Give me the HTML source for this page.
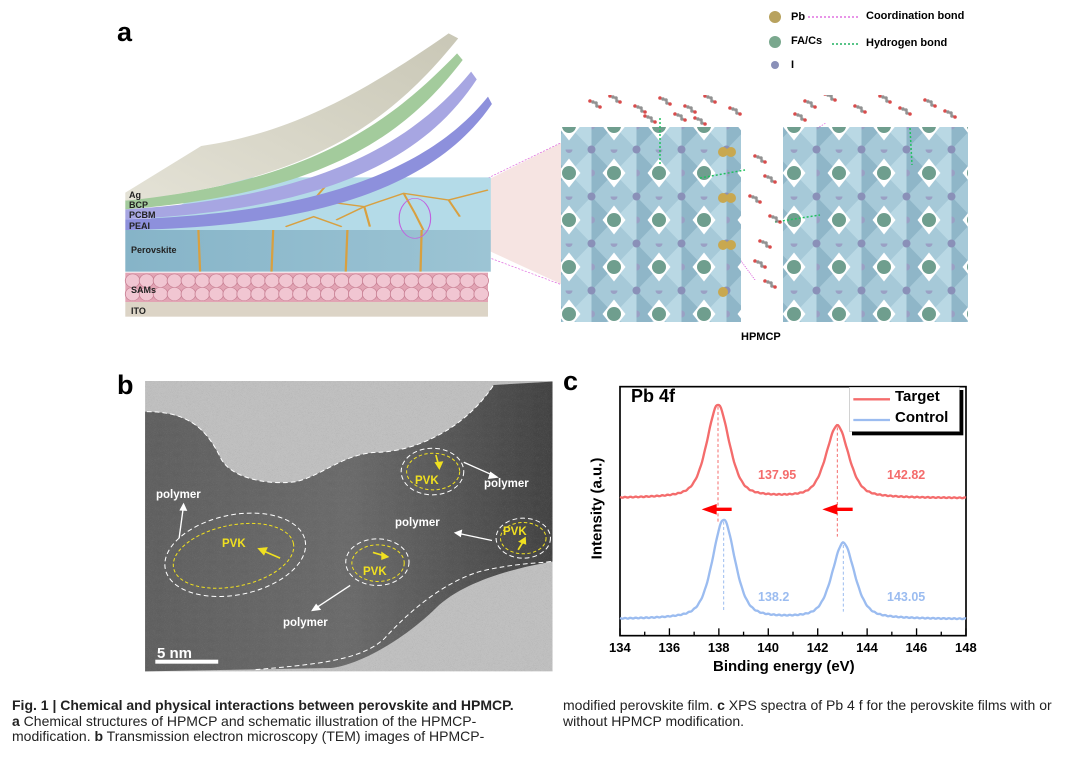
<!DOCTYPE html>
<html><head><meta charset="utf-8">
<style>
body{margin:0;background:#fff;}
#w{position:relative;width:1080px;height:757px;overflow:hidden;background:#fff;font-family:"Liberation Sans",Arial,sans-serif;}
.t{position:absolute;white-space:nowrap;}
.lab{font-size:9px;font-weight:bold;color:#222;}
.cap{position:absolute;font-family:"Liberation Sans Narrow","Liberation Sans",sans-serif;font-size:14px;line-height:15.5px;color:#222;}
svg{position:absolute;}
</style></head><body><div id="w">

<svg style="left:100px;top:0" width="880" height="360" viewBox="0 0 1565 1080" preserveAspectRatio="none">
 <defs>
  <linearGradient id="ag" x1="0" y1="1" x2="1" y2="0"><stop offset="0" stop-color="#e4e2d6"/><stop offset="1" stop-color="#c9c7b6"/></linearGradient>
  <linearGradient id="pv" x1="0" y1="0" x2="1" y2="0"><stop offset="0" stop-color="#86b4c8"/><stop offset="1" stop-color="#9cc4d4"/></linearGradient>
 </defs>
 <polygon points="560,650 830,420 830,860" fill="#f6e4e2"/>
 <line x1="560" y1="640" x2="830" y2="420" stroke="#e070e0" stroke-width="2" stroke-dasharray="4,3"/>
 <line x1="560" y1="690" x2="830" y2="860" stroke="#e070e0" stroke-width="2" stroke-dasharray="4,3"/>
 <rect x="45" y="905" width="645" height="45" fill="#dcd4c6"/>
 <rect x="45" y="818" width="645" height="88" fill="#e2a4b4"/>
 <g fill="#f1c6d2" stroke="#c88094" stroke-width="1.5"><g id="row"></g></g>
 <rect x="45" y="690" width="650" height="125" fill="url(#pv)"/>
 <polygon points="45,690 695,690 695,532 250,532" fill="#b4dbe8"/>
 <g stroke="#d8a040" stroke-width="4" fill="none">
  <line x1="175" y1="690" x2="178" y2="815"/><line x1="308" y1="690" x2="305" y2="815"/><line x1="440" y1="690" x2="437" y2="815"/><line x1="572" y1="690" x2="570" y2="815"/>
  <path d="M300,640 L380,600 L470,620 L540,580 L620,600 L690,570 M380,600 L400,560 M470,620 L480,680 M540,580 L560,640 L575,690 M420,660 L470,620 M620,600 L640,650 M330,680 L380,650 L430,680"/>
 </g>
 <ellipse cx="560" cy="655" rx="28" ry="60" fill="none" stroke="#c060e0" stroke-width="2"/>
 <path d="M45,658 C420,640 600,480 690,290 L697,312 C612,522 432,682 45,690 Z" fill="#8d90dc"/>
 <path d="M45,628 C400,592 560,420 660,215 L670,238 C582,462 422,628 45,658 Z" fill="#a7a6e2"/>
 <path d="M45,600 C380,548 520,360 635,160 L645,180 C545,402 402,582 45,628 Z" fill="#a3cb9c"/>
 <path d="M45,578 L180,438 C330,400 450,300 620,100 L637,115 C522,355 382,545 45,602 Z" fill="url(#ag)"/>
 <g stroke="#e070e0" stroke-width="2" stroke-dasharray="3,3"><line x1="1065" y1="390" x2="1110" y2="450"/><line x1="1290" y1="370" x2="1220" y2="440"/><line x1="1130" y1="760" x2="1165" y2="840"/></g>
</svg>

<svg style="left:550px;top:95px" width="430" height="240" viewBox="550 95 430 240">
 <defs>
  <pattern id="lat" x="591.5" y="149.5" width="45" height="47" patternUnits="userSpaceOnUse">
   <rect width="45" height="47" fill="#a6c9d8"/>
   <polygon points="0,0 22.5,23.5 0,47" fill="#8fb6c8"/>
   <polygon points="45,0 22.5,23.5 45,47" fill="#b9d8e4"/>
   <polygon points="22.5,9 34,23.5 22.5,38 11,23.5" fill="#fff"/>
   <circle cx="22.5" cy="23.5" r="7" fill="#6f9e8e"/>
   <circle cx="0" cy="0" r="4" fill="#8a90b8"/><circle cx="45" cy="0" r="4" fill="#8a90b8"/>
   <circle cx="0" cy="47" r="4" fill="#8a90b8"/><circle cx="45" cy="47" r="4" fill="#8a90b8"/>
   <circle cx="22.5" cy="0" r="3.5" fill="#9aa0c4"/><circle cx="0" cy="23.5" r="3.5" fill="#9aa0c4"/>
  </pattern>
 </defs>
 <rect x="561" y="127" width="180" height="195" fill="url(#lat)"/>
 <rect x="783" y="127" width="185" height="195" fill="url(#lat)"/>
 <g fill="#c8a850"><circle cx="723" cy="152" r="5"/><circle cx="731" cy="152" r="5"/><circle cx="723" cy="198" r="5"/><circle cx="731" cy="198" r="5"/><circle cx="723" cy="245" r="5"/><circle cx="731" cy="245" r="5"/><circle cx="723" cy="292" r="5"/></g>
 <g stroke="#22c060" stroke-width="1.5" stroke-dasharray="2,2"><line x1="660" y1="118" x2="660" y2="165"/><line x1="700" y1="178" x2="745" y2="170"/><line x1="775" y1="222" x2="820" y2="215"/><line x1="910" y1="128" x2="912" y2="165"/></g>
 <g fill="#888" opacity="0.8"><g id="mol"></g></g>
</svg>

<svg style="left:760px;top:5px" width="230" height="75">
 <circle cx="15" cy="12" r="6" fill="#b8a25e"/><circle cx="15" cy="37" r="6" fill="#7aa88e"/><circle cx="15" cy="60" r="4" fill="#8a90b8"/>
 <line x1="48" y1="12" x2="100" y2="12" stroke="#e070e0" stroke-width="1.5" stroke-dasharray="2,2"/>
 <line x1="72" y1="39" x2="100" y2="39" stroke="#20b060" stroke-width="1.5" stroke-dasharray="2,2"/>
</svg>
<div class="t" style="left:791px;top:11px;font-size:11px;font-weight:bold">Pb</div>
<div class="t" style="left:866px;top:10px;font-size:11px;font-weight:bold">Coordination bond</div>
<div class="t" style="left:791px;top:35px;font-size:11px;font-weight:bold">FA/Cs</div>
<div class="t" style="left:866px;top:37px;font-size:11px;font-weight:bold">Hydrogen bond</div>
<div class="t" style="left:791px;top:59px;font-size:11px;font-weight:bold">I</div>

<div class="t" style="left:117px;top:17px;font-size:27px;font-weight:bold">a</div>
<div class="t lab" style="left:129px;top:190px">Ag</div>
<div class="t lab" style="left:129px;top:200px">BCP</div>
<div class="t lab" style="left:129px;top:210px">PCBM</div>
<div class="t lab" style="left:129px;top:221px">PEAI</div>
<div class="t lab" style="left:131px;top:245px">Perovskite</div>
<div class="t lab" style="left:131px;top:285px">SAMs</div>
<div class="t lab" style="left:131px;top:306px">ITO</div>
<div class="t" style="left:741px;top:331px;font-size:11px;font-weight:bold">HPMCP</div>

<div class="t" style="left:117px;top:370px;font-size:27px;font-weight:bold">b</div>
<svg style="left:140px;top:375px" width="420" height="303" viewBox="0 0 1235 910" preserveAspectRatio="none">
 <defs>
  <filter id="nz"><feTurbulence baseFrequency="0.35" numOctaves="2" seed="3"/><feColorMatrix type="saturate" values="0"/><feComponentTransfer><feFuncA type="linear" slope="0.25"/></feComponentTransfer><feComposite in2="SourceGraphic" operator="in"/></filter>
  <linearGradient id="db" x1="0" y1="0" x2="1" y2="0"><stop offset="0" stop-color="#5e5e5e"/><stop offset="0.5" stop-color="#6a6a6a"/><stop offset="1" stop-color="#404040"/></linearGradient>
 </defs>
 <rect x="15" y="18" width="1198" height="872" fill="#c2c2c2"/>
 <path d="M15,110 C150,110 200,170 240,255 C280,320 400,330 460,320 C540,300 600,235 700,232 C800,230 950,170 1040,30 L1213,20 L1213,560 C1100,580 950,620 870,700 C780,790 650,870 560,880 L15,890 Z" fill="url(#db)"/>
 <rect x="15" y="18" width="1198" height="872" fill="#888" filter="url(#nz)"/>
 <g fill="none" stroke="#fff" stroke-width="3" stroke-dasharray="14,9">
  <path d="M20,110 C150,110 200,170 240,255 C280,320 400,330 460,320 C540,300 600,235 700,232 C800,230 950,170 1040,30"/>
  <path d="M340,885 C500,870 650,860 720,790 C800,700 900,620 1000,590 C1100,565 1180,565 1210,560"/>
  <ellipse cx="280" cy="540" rx="210" ry="120" transform="rotate(-12 280 540)"/>
  <ellipse cx="860" cy="290" rx="92" ry="70"/>
  <ellipse cx="698" cy="562" rx="93" ry="70"/>
  <ellipse cx="1127" cy="490" rx="80" ry="60"/>
 </g>
 <g fill="none" stroke="#f0e020" stroke-width="3" stroke-dasharray="10,7">
  <ellipse cx="275" cy="543" rx="180" ry="92" transform="rotate(-12 275 543)"/>
  <ellipse cx="862" cy="290" rx="78" ry="55"/>
  <ellipse cx="700" cy="565" rx="77" ry="55"/>
  <ellipse cx="1127" cy="490" rx="67" ry="47"/>
 </g>
 <g stroke="#f0e020" stroke-width="5" fill="#f0e020">
  <line x1="412" y1="550" x2="360" y2="527"/><polygon points="350,522 372,520 364,538"/>
  <line x1="870" y1="240" x2="878" y2="270"/><polygon points="880,280 870,264 888,262"/>
  <line x1="685" y1="533" x2="718" y2="543"/><polygon points="728,546 712,535 712,552"/>
  <line x1="1112" y1="525" x2="1127" y2="500"/><polygon points="1132,490 1117,500 1133,506"/>
 </g>
 <g stroke="#fff" stroke-width="4" fill="#fff">
  <line x1="115" y1="490" x2="127" y2="400"/><polygon points="128,388 119,405 136,406"/>
  <line x1="952" y1="262" x2="1040" y2="302"/><polygon points="1050,307 1031,293 1026,310"/>
  <line x1="1035" y1="497" x2="938" y2="476"/><polygon points="927,474 945,467 942,484"/>
  <line x1="618" y1="632" x2="517" y2="700"/><polygon points="507,707 518,690 529,704"/>
 </g>
 <rect x="45" y="855" width="185" height="12" fill="#fff"/>
</svg>
<div class="t" style="left:156px;top:489px;font-size:11.5px;font-weight:bold;color:#fff">polymer</div>
<div class="t" style="left:484px;top:478px;font-size:11.5px;font-weight:bold;color:#fff">polymer</div>
<div class="t" style="left:395px;top:517px;font-size:11.5px;font-weight:bold;color:#fff">polymer</div>
<div class="t" style="left:283px;top:617px;font-size:11.5px;font-weight:bold;color:#fff">polymer</div>
<div class="t" style="left:222px;top:538px;font-size:11.5px;font-weight:bold;color:#f0e020">PVK</div>
<div class="t" style="left:415px;top:475px;font-size:11.5px;font-weight:bold;color:#f0e020">PVK</div>
<div class="t" style="left:363px;top:566px;font-size:11.5px;font-weight:bold;color:#f0e020">PVK</div>
<div class="t" style="left:503px;top:526px;font-size:11.5px;font-weight:bold;color:#f0e020">PVK</div>
<div class="t" style="left:157px;top:645px;font-size:15px;font-weight:bold;color:#fff">5 nm</div>

<svg style="left:560px;top:370px" width="420" height="310" viewBox="0 0 1260 930" preserveAspectRatio="none">
 <rect x="180" y="50" width="1038" height="747" fill="none" stroke="#000" stroke-width="5"/>
 <g id="ticks" stroke="#000" stroke-width="4"></g>
 <path id="tg" fill="none" stroke="#f46c6c" stroke-width="7"/>
 <path id="cg" fill="none" stroke="#9bbcf0" stroke-width="7"/>
 <g stroke-width="3" stroke-dasharray="9,7">
  <line x1="474" y1="110" x2="474" y2="460" stroke="#f46c6c"/><line x1="832" y1="172" x2="832" y2="500" stroke="#f46c6c"/>
  <line x1="491" y1="455" x2="491" y2="725" stroke="#9bbcf0"/><line x1="850" y1="525" x2="850" y2="725" stroke="#9bbcf0"/>
 </g>
 <g fill="#f00" stroke="#f00" stroke-width="10">
  <line x1="465" y1="418" x2="515" y2="418"/><polygon points="425,418 470,402 470,434" stroke="none"/>
  <line x1="825" y1="418" x2="878" y2="418"/><polygon points="787,418 832,402 832,434" stroke="none"/>
 </g>
 <rect x="876" y="60" width="334" height="136" fill="#000"/>
 <rect x="868" y="52" width="330" height="132" fill="#fff" stroke="#bbb" stroke-width="2"/>
 <line x1="880" y1="88" x2="990" y2="88" stroke="#f46c6c" stroke-width="7"/>
 <line x1="880" y1="150" x2="990" y2="150" stroke="#9bbcf0" stroke-width="7"/>
</svg>
<div class="t" style="left:563px;top:366px;font-size:27px;font-weight:bold">c</div>
<div class="t" style="left:631px;top:386px;font-size:18px;font-weight:bold">Pb 4f</div>
<div class="t" style="left:895px;top:388px;font-size:15px;font-weight:bold">Target</div>
<div class="t" style="left:895px;top:409px;font-size:15px;font-weight:bold">Control</div>
<div class="t" style="left:758px;top:468px;font-size:12.5px;font-weight:bold;color:#f46c6c">137.95</div>
<div class="t" style="left:887px;top:468px;font-size:12.5px;font-weight:bold;color:#f46c6c">142.82</div>
<div class="t" style="left:758px;top:590px;font-size:12.5px;font-weight:bold;color:#9bbcf0">138.2</div>
<div class="t" style="left:887px;top:590px;font-size:12.5px;font-weight:bold;color:#9bbcf0">143.05</div>
<div id="xl"></div>
<div class="t" style="left:713px;top:658px;font-size:15px;font-weight:bold">Binding energy (eV)</div>
<div class="t" style="left:546px;top:500px;font-size:15px;font-weight:bold;transform:rotate(-90deg);transform-origin:center">Intensity (a.u.)</div>

<div class="cap" style="left:12px;top:698px;width:545px"><b>Fig. 1 | Chemical and physical interactions between perovskite and HPMCP.</b><br><b>a</b> Chemical structures of HPMCP and schematic illustration of the HPMCP-<br>modification. <b>b</b> Transmission electron microscopy (TEM) images of HPMCP-</div>
<div class="cap" style="left:563px;top:698px;width:515px">modified perovskite film. <b>c</b> XPS spectra of Pb 4 f for the perovskite films with or<br>without HPMCP modification.</div>

</div>
<script>
(function(){
var ns="http://www.w3.org/2000/svg";
function el(p,t,a){var e=document.createElementNS(ns,t);for(var k in a)e.setAttribute(k,a[k]);p.appendChild(e);return e;}
var row=document.getElementById('row');
for(var r=0;r<2;r++)for(var i=0;i<26;i++)el(row,'ellipse',{cx:58+i*24.8,cy:842+r*40,rx:13,ry:20});
var mol=document.getElementById('mol');
var pts=[[595,105],[615,100],[640,110],[665,102],[690,110],[710,100],[735,112],[650,120],[700,122],[810,105],[830,98],[860,110],[885,100],[905,112],[930,104],[950,115],[760,160],[770,180],[755,200],[775,220],[765,245],[760,265],[770,285],[680,118],[800,118]];
pts.forEach(function(p){for(var j=0;j<5;j++){el(mol,'circle',{cx:p[0]+(j*7%11)-5,cy:p[1]+(j*5%9)-4,r:1.8,fill:j%3==0?'#d02020':'#777'});}});
var tk=document.getElementById('ticks');
for(var v=134;v<=148;v+=1){var x=180+(v-134)*74.14;var L=(v%2==0)?22:12;el(tk,'line',{x1:x,y1:797,x2:x,y2:797-L});}
var xl=document.getElementById('xl');var h='';
for(var v=134;v<=148;v+=2){var x=560+(180+(v-134)*74.14)/3;h+='<div class="t" style="left:'+(x-11)+'px;top:640px;font-size:13px;font-weight:bold">'+v+'</div>';}
xl.innerHTML=h;
function pv(x,c,w){var d=(x-c)/w;return 0.5*Math.exp(-4*Math.LN2*d*d)+0.5/(1+4*d*d);}
function curve(id,base,p){var s='';for(var x=180;x<=1218;x+=3){var y=base;p.forEach(function(q){y-=q[1]*pv(x,q[0],q[2]);});y+=Math.sin(x*1.7)*1.2;s+=(s?'L':'M')+x+','+y.toFixed(1);}document.getElementById(id).setAttribute('d',s);}
curve('tg',385,[[474,280,80],[832,217,80]]);
curve('cg',748,[[491,298,80],[850,228,80]]);
})();
</script>
</body></html>
